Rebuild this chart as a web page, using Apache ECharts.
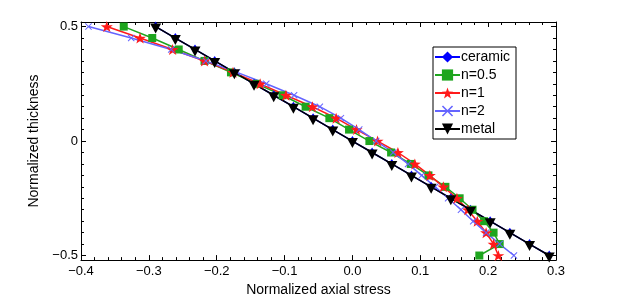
<!DOCTYPE html>
<html>
<head>
<meta charset="utf-8">
<script src="https://cdn.jsdelivr.net/npm/echarts@6/dist/echarts.min.js"></script>
<style>html,body{margin:0;padding:0;background:#fff;}#c{width:620px;height:302px;}</style>
</head>
<body>
<div id="c"></div>
<script>
const thickness = [0.5,0.45,0.4,0.35,0.3,0.25,0.2,0.15,0.1,0.05,0,-0.05,-0.1,-0.15,-0.2,-0.25,-0.3,-0.35,-0.4,-0.45,-0.5];
const ceramic = [-0.29,-0.261,-0.232,-0.203,-0.174,-0.145,-0.116,-0.087,-0.058,-0.029,0,0.029,0.058,0.087,0.116,0.145,0.174,0.203,0.232,0.261,0.29];
const n05 = [-0.337,-0.295,-0.256,-0.218,-0.179,-0.141,-0.103,-0.069,-0.034,-0.005,0.025,0.057,0.086,0.112,0.137,0.158,0.177,0.194,0.208,0.217,0.187];
const n1 = [-0.362,-0.313,-0.265,-0.218,-0.176,-0.136,-0.098,-0.059,-0.024,0.006,0.037,0.067,0.092,0.114,0.134,0.154,0.170,0.184,0.197,0.208,0.215];
const n2 = [-0.389,-0.326,-0.267,-0.216,-0.170,-0.127,-0.086,-0.048,-0.017,0.010,0.035,0.060,0.082,0.102,0.122,0.141,0.160,0.178,0.197,0.217,0.238];
const metal = [-0.29,-0.261,-0.232,-0.203,-0.174,-0.145,-0.116,-0.087,-0.058,-0.029,0,0.029,0.058,0.087,0.116,0.145,0.174,0.203,0.232,0.261,0.29];
const xTicks = [-0.4,-0.3,-0.2,-0.1,0,0.1,0.2,0.3];
const yTicks = [-0.5,0,0.5];
const yMinorTicks = thickness;

const pair = arr => arr.map((v,i)=>[v, thickness[i]]);
const FONT = 'Liberation Sans, Arial, sans-serif';
const starPath = 'path://M0,-10 L2.35,-3.24 L9.51,-3.09 L3.8,1.24 L5.88,8.09 L0,4 L-5.88,8.09 L-3.8,1.24 L-9.51,-3.09 L-2.35,-3.24 Z';
const xPath = 'path://M-5,-4 L-4,-5 L0,-1 L4,-5 L5,-4 L1,0 L5,4 L4,5 L0,1 L-4,5 L-5,4 L-1,0 Z';
const minus = s => String(s).replace('-', '\u2212');
const nearest = (arr, v) => arr.reduce((a,b)=>Math.abs(b-v)<Math.abs(a-v)?b:a);

const lineC = {show:true,onZero:false,lineStyle:{color:'#000',width:1}};
const mt = n => ({show:true,splitNumber:n,length:3,lineStyle:{color:'#000'}});
const Y_MIN = -0.52, Y_MAX = 0.52;

const xBase = {type:'value',min:-0.4,max:0.3,interval:0.1,axisLine:lineC,
  axisTick:{show:true,inside:true,length:5,lineStyle:{color:'#000'}},
  minorTick:mt(5),splitLine:{show:false}};
const yMajor = (pos, labels) => ({type:'value',min:Y_MIN,max:Y_MAX,position:pos,axisLine:lineC,
  axisTick:{show:true,inside:true,length:5,customValues:yTicks,lineStyle:{color:'#000'}},
  axisLabel:labels ? {show:true,customValues:yTicks,fontFamily:FONT,fontSize:13,color:'#000',margin:3,
    formatter:v=>minus(String(nearest(yTicks,v)))} : {show:false},
  splitLine:{show:false}});
const yMinor = pos => ({type:'value',min:Y_MIN,max:Y_MAX,position:pos,axisLine:{show:false,onZero:false},
  axisTick:{show:true,inside:true,length:3,customValues:yMinorTicks,lineStyle:{color:'#000'}},
  axisLabel:{show:false},splitLine:{show:false}});

const chart = echarts.init(document.getElementById('c'), null, {renderer:'canvas'});
chart.setOption({
  animation:false,
  backgroundColor:'#fff',
  grid:{left:81,right:64,top:22,bottom:34},
  xAxis:[
    Object.assign({}, xBase, {position:'bottom',
      name:'Normalized axial stress',nameLocation:'middle',nameGap:18,
      nameTextStyle:{fontFamily:FONT,fontSize:14,color:'#000'},
      axisLabel:{fontFamily:FONT,fontSize:13,color:'#000',margin:5,
        formatter:v=>minus(nearest(xTicks,v).toFixed(1))}}),
    Object.assign({}, xBase, {position:'top',axisLabel:{show:false}})
  ],
  yAxis:[
    Object.assign(yMajor('left', true), {name:'Normalized thickness',nameLocation:'middle',nameGap:35,
      nameTextStyle:{fontFamily:FONT,fontSize:14,color:'#000'}}),
    yMajor('right', false),
    yMinor('left'),
    yMinor('right')
  ],
  legend:{
    left:433,top:47,orient:'vertical',
    backgroundColor:'#fff',borderColor:'#000',borderWidth:1,
    padding:[3,6,3,1],itemGap:4,itemWidth:25,itemHeight:14,
    textStyle:{fontFamily:FONT,fontSize:14,color:'#000',padding:[0,0,0,-4]},
    data:['ceramic','n=0.5','n=1','n=2','metal']
  },
  series:[
    {name:'ceramic',type:'line',data:pair(ceramic),symbol:'diamond',symbolSize:[7,10],
      lineStyle:{color:'#0000ff',width:1.5},itemStyle:{color:'#0000ff'}},
    {name:'n=0.5',type:'line',data:pair(n05),symbol:'rect',symbolSize:8,
      lineStyle:{color:'#1ea51e',width:1.5},itemStyle:{color:'#1ea51e'}},
    {name:'n=1',type:'line',data:pair(n1),symbol:starPath,symbolSize:[12,11],
      lineStyle:{color:'#ff1a1a',width:1.5},itemStyle:{color:'#ff1a1a'}},
    {name:'n=2',type:'line',data:pair(n2),symbol:xPath,symbolSize:7,
      lineStyle:{color:'#6464ff',width:1.5},itemStyle:{color:'#6464ff'}},
    {name:'metal',type:'line',data:pair(metal),symbol:'triangle',symbolRotate:180,symbolSize:[11,10],symbolOffset:[0,2],
      lineStyle:{color:'#000',width:1.5},itemStyle:{color:'#000'}}
  ]
});
</script>
</body>
</html>
